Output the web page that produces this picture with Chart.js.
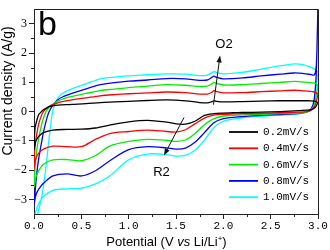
<!DOCTYPE html>
<html><head><meta charset="utf-8">
<script src="https://cdn.jsdelivr.net/npm/chart.js@4/dist/chart.umd.min.js"></script>
<style>html,body{margin:0;padding:0;background:#fff;}canvas{display:block;}</style>
</head><body>
<canvas id="c" width="330" height="250"></canvas>
<script>
// ---- data ----
const seriesLabels = ['0.2mV/s', '0.4mV/s', '0.6mV/s', '0.8mV/s', '1.0mV/s'];
const seriesColors = ['#000000', '#ff0000', '#00ee00', '#0000ff', '#00ffff'];

// anodic (upper) branch potentials, V
const potentialUp = [0, 0.01, 0.03, 0.05, 0.08, 0.1, 0.13, 0.16, 0.2, 0.25, 0.3, 0.4, 0.55, 0.7, 0.85, 1.0, 1.2, 1.4, 1.6, 1.75, 1.83, 1.88, 1.9, 1.93, 2.0, 2.2, 2.4, 2.6, 2.75, 2.85, 2.92, 2.96, 2.98, 2.99, 3.0];
// cathodic (lower) branch potentials, V
const potentialDown = [3.0, 2.99, 2.98, 2.96, 2.93, 2.88, 2.8, 2.6, 2.4, 2.2, 2.1, 2.0, 1.9, 1.8, 1.7, 1.6, 1.5, 1.4, 1.2, 1.0, 0.8, 0.65, 0.5, 0.35, 0.2, 0.1, 0.05, 0.02, 0.0];

const up02 = [-1.3, -0.6, -0.3, -0.1, 0.0, 0.06, 0.12, 0.17, 0.2, 0.22, 0.23, 0.25, 0.27, 0.31, 0.33, 0.35, 0.38, 0.4, 0.37, 0.31, 0.3, 0.34, 0.37, 0.35, 0.33, 0.34, 0.36, 0.37, 0.37, 0.37, 0.37, 0.36, 0.34, 0.32, 0.3];
const up04 = [-1.95, -1.2, -0.75, -0.42, -0.12, 0.0, 0.1, 0.18, 0.24, 0.3, 0.34, 0.4, 0.47, 0.54, 0.58, 0.61, 0.64, 0.67, 0.65, 0.6, 0.6, 0.66, 0.72, 0.68, 0.64, 0.65, 0.68, 0.71, 0.73, 0.71, 0.69, 0.67, 0.65, 0.63, 0.6];
const up06 = [-2.6, -2.0, -1.3, -0.9, -0.45, -0.22, 0.02, 0.15, 0.26, 0.36, 0.43, 0.52, 0.62, 0.72, 0.77, 0.82, 0.87, 0.92, 0.9, 0.86, 0.87, 0.95, 1.0, 0.96, 0.91, 0.92, 0.96, 1.0, 1.03, 1.01, 0.99, 0.97, 0.95, 0.92, 0.9];
const up08 = [-3.2, -2.8, -2.1, -1.6, -1.05, -0.7, -0.3, 0.0, 0.22, 0.4, 0.5, 0.62, 0.78, 0.92, 0.99, 1.04, 1.08, 1.13, 1.12, 1.07, 1.08, 1.17, 1.21, 1.17, 1.12, 1.15, 1.22, 1.28, 1.32, 1.3, 1.27, 1.25, 1.5, 2.3, 3.8];
const up10 = [-3.7, -3.65, -3.6, -3.35, -2.95, -2.55, -1.8, -0.9, 0.05, 0.45, 0.62, 0.78, 0.95, 1.12, 1.18, 1.22, 1.26, 1.29, 1.28, 1.23, 1.25, 1.33, 1.37, 1.33, 1.29, 1.34, 1.45, 1.56, 1.63, 1.6, 1.52, 1.46, 1.42, 1.38, 1.35];

const down02 = [0.3, 0.25, 0.18, 0.12, 0.07, 0.05, 0.03, 0.0, -0.02, -0.03, -0.04, -0.05, -0.07, -0.13, -0.33, -0.43, -0.42, -0.36, -0.3, -0.35, -0.46, -0.56, -0.6, -0.61, -0.63, -0.72, -0.85, -1.0, -1.3];
const down04 = [0.6, 0.45, 0.3, 0.15, 0.05, 0.0, -0.02, -0.04, -0.06, -0.07, -0.08, -0.09, -0.12, -0.22, -0.42, -0.62, -0.7, -0.68, -0.63, -0.68, -0.75, -0.95, -1.2, -1.2, -1.18, -1.28, -1.42, -1.6, -1.95];
const down06 = [0.9, 0.7, 0.5, 0.23, 0.07, -0.02, -0.05, -0.07, -0.09, -0.11, -0.13, -0.15, -0.24, -0.45, -0.75, -0.97, -1.02, -0.98, -0.95, -1.02, -1.18, -1.5, -1.68, -1.64, -1.65, -1.8, -2.02, -2.25, -2.6];
const down08 = [3.8, 2.2, 1.2, 0.42, 0.1, -0.01, -0.06, -0.1, -0.13, -0.17, -0.2, -0.24, -0.38, -0.72, -1.05, -1.25, -1.28, -1.24, -1.2, -1.3, -1.68, -2.02, -2.2, -2.13, -2.2, -2.45, -2.65, -2.85, -3.2];
const down10 = [1.35, 1.1, 0.8, 0.33, 0.1, -0.03, -0.08, -0.12, -0.16, -0.21, -0.26, -0.33, -0.55, -0.98, -1.32, -1.5, -1.52, -1.47, -1.45, -1.65, -2.2, -2.47, -2.62, -2.64, -2.69, -2.9, -3.15, -3.4, -3.7];

const upBranches = [up02, up04, up06, up08, up10];
const downBranches = [down02, down04, down06, down08, down10];

const xTickValues = [0, 0.5, 1, 1.5, 2, 2.5, 3];
const xTickLabels = ['0.0', '0.5', '1.0', '1.5', '2.0', '2.5', '3.0'];
const yTickValues = [-3, -2, -1, 0, 1, 2, 3];
const yTickLabels = ['\u22123', '\u22122', '\u22121', '0', '1', '2', '3'];

const yTitle = 'Current density (A/g)';
const panelLabel = 'b';
// annotations (data coordinates)
const noteO2 = {text: 'O2', at: [2.007, 2.29], from: [1.896, 0.236], to: [1.965, 1.92]};
const noteR2 = {text: 'R2', at: [1.347, -2.09], from: [1.585, -0.2], to: [1.373, -1.5]};

// ---- build datasets ----
const datasets = seriesLabels.map((lab, i) => {
  const pts = potentialUp.map((v, k) => ({x: v, y: upBranches[i][k]}))
    .concat(potentialDown.slice(1).map((v, k) => ({x: v, y: downBranches[i][k + 1]})));
  return {label: lab, data: pts, borderColor: seriesColors[i], backgroundColor: seriesColors[i],
    borderWidth: 1.3, pointRadius: 0, showLine: true, fill: false, tension: 0.3};
});

const AX = '#222';
const extras = {
  id: 'extras',
  afterDraw(chart) {
    const {ctx, chartArea: a, scales: {x, y}} = chart;
    ctx.save();
    ctx.strokeStyle = AX; ctx.lineWidth = 1;
    // top and right frame
    ctx.beginPath();
    ctx.moveTo(Math.round(a.left) + 0.5, Math.round(a.top) + 0.5);
    ctx.lineTo(Math.round(a.right) + 0.5, Math.round(a.top) + 0.5);
    ctx.lineTo(Math.round(a.right) + 0.5, Math.round(a.bottom) + 0.5);
    ctx.stroke();
    // minor ticks
    ctx.beginPath();
    for (let v = 0.25; v < 3; v += 0.5) {
      const px = Math.round(x.getPixelForValue(v)) + 0.5;
      ctx.moveTo(px, a.bottom); ctx.lineTo(px, a.bottom + 3);
    }
    for (let v = -2.5; v < 3; v += 1) {
      const py = Math.round(y.getPixelForValue(v)) + 0.5;
      ctx.moveTo(a.left, py); ctx.lineTo(a.left - 3, py);
    }
    ctx.stroke();

    // y title
    ctx.fillStyle = '#000';
    ctx.save();
    ctx.translate(8, 91);
    ctx.rotate(-Math.PI / 2);
    ctx.font = '14px "Liberation Sans", Arial, sans-serif';
    ctx.textAlign = 'center'; ctx.textBaseline = 'middle';
    ctx.fillText(yTitle, 0, 0);
    ctx.restore();

    // x title with italic "vs" and superscript "+"
    const parts = [
      {t: 'Potential (V ', f: '13px "Liberation Sans", Arial, sans-serif', dy: 0},
      {t: 'vs', f: 'italic 13px "Liberation Sans", Arial, sans-serif', dy: 0},
      {t: ' Li/Li', f: '13px "Liberation Sans", Arial, sans-serif', dy: 0},
      {t: '+', f: '8px "Liberation Sans", Arial, sans-serif', dy: -5},
      {t: ')', f: '13px "Liberation Sans", Arial, sans-serif', dy: 0}
    ];
    let w = 0;
    parts.forEach(p => { ctx.font = p.f; p.w = ctx.measureText(p.t).width; w += p.w; });
    let cx = 166.5 - w / 2;
    ctx.textAlign = 'left'; ctx.textBaseline = 'alphabetic';
    parts.forEach(p => { ctx.font = p.f; ctx.fillText(p.t, cx, 246 + p.dy); cx += p.w; });

    // panel label
    ctx.font = '34px "Liberation Sans", Arial, sans-serif';
    ctx.fillText(panelLabel, a.left + 4, a.top + 26);

    // legend
    ctx.font = '11px "Liberation Mono", monospace';
    ctx.textBaseline = 'middle';
    chart.data.datasets.forEach((d, i) => {
      const ly = 132 + i * 16.3;
      ctx.strokeStyle = d.borderColor; ctx.lineWidth = 1.8;
      ctx.beginPath(); ctx.moveTo(229, ly); ctx.lineTo(258, ly); ctx.stroke();
      ctx.fillStyle = '#000';
      ctx.fillText(d.label, 263, ly);
    });

    // annotations
    const arrow = (n) => {
      const x0 = x.getPixelForValue(n.from[0]), y0 = y.getPixelForValue(n.from[1]);
      const x1 = x.getPixelForValue(n.to[0]), y1 = y.getPixelForValue(n.to[1]);
      const ang = Math.atan2(y1 - y0, x1 - x0);
      const hl = 7, hw = 2.6;
      ctx.strokeStyle = '#111'; ctx.fillStyle = '#111'; ctx.lineWidth = 1;
      ctx.beginPath(); ctx.moveTo(x0, y0);
      ctx.lineTo(x1 - Math.cos(ang) * hl * 0.8, y1 - Math.sin(ang) * hl * 0.8); ctx.stroke();
      ctx.beginPath();
      ctx.moveTo(x1, y1);
      ctx.lineTo(x1 - Math.cos(ang) * hl - Math.sin(ang) * hw, y1 - Math.sin(ang) * hl + Math.cos(ang) * hw);
      ctx.lineTo(x1 - Math.cos(ang) * hl + Math.sin(ang) * hw, y1 - Math.sin(ang) * hl - Math.cos(ang) * hw);
      ctx.closePath(); ctx.fill();
      ctx.fillStyle = '#000';
      ctx.font = '13px "Liberation Sans", Arial, sans-serif';
      ctx.textAlign = 'center'; ctx.textBaseline = 'middle';
      ctx.fillText(n.text, x.getPixelForValue(n.at[0]), y.getPixelForValue(n.at[1]));
    };
    arrow(noteO2); arrow(noteR2);
    ctx.restore();
  }
};

new Chart(document.getElementById('c'), {
  type: 'scatter',
  data: {datasets},
  options: {
    responsive: false, animation: false, events: [],
    layout: {padding: {left: 0, right: 12, top: 6, bottom: 0}},
    plugins: {legend: {display: false}, tooltip: {enabled: false}},
    scales: {
      x: {
        type: 'linear', min: 0, max: 3,
        afterBuildTicks: s => { s.ticks = xTickValues.map(v => ({value: v})); },
        afterFit: s => { s.height = 36; },
        ticks: {autoSkip: false, maxRotation: 0, padding: 0, color: '#000',
          font: {family: '"Liberation Mono", monospace', size: 11},
          callback: (v, i) => xTickLabels[i]},
        grid: {drawOnChartArea: false, drawTicks: true, tickLength: 5, color: AX},
        border: {color: AX, width: 1}
      },
      y: {
        type: 'linear', min: -3.5, max: 3.5,
        afterBuildTicks: s => { s.ticks = yTickValues.map(v => ({value: v})); },
        afterFit: s => { s.width = 34; },
        ticks: {autoSkip: false, padding: 2, color: '#000',
          font: {family: '"Liberation Serif", serif', size: 12},
          callback: (v, i) => yTickLabels[i]},
        grid: {drawOnChartArea: false, drawTicks: true, tickLength: 5, color: AX},
        border: {color: AX, width: 1}
      }
    }
  },
  plugins: [extras]
});
</script>
</body></html>
